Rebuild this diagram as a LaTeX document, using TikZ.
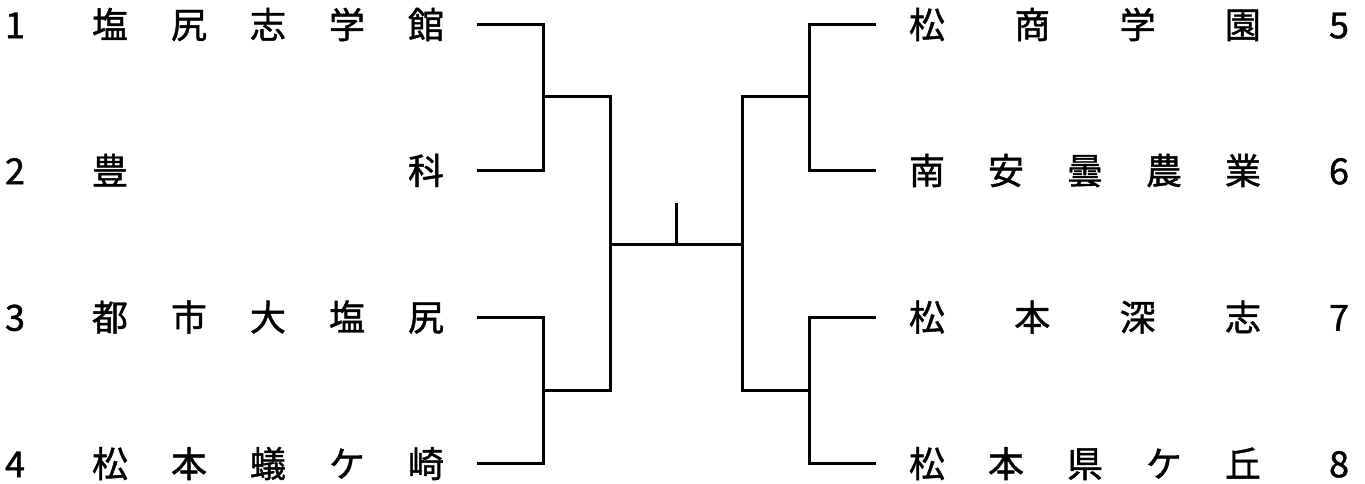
\documentclass[tikz,border=0pt]{standalone}
\usepackage{fontspec}
\newfontfamily\jp[FakeBold=1.2]{Noto Sans CJK JP}
\tikzset{
  bk/.style={line width=3pt},
  team/.style={font=\jp\fontsize{36}{36}\selectfont, inner xsep=33pt, inner ysep=0pt, text height=31.7pt, text depth=4.3pt},
  num/.style={font=\jp\fontsize{36}{36}\selectfont, inner sep=0pt, text height=31.7pt, text depth=4.3pt}
}
\newcommand{\spreadname}[1]{\hbox to 352pt{#1}}
\begin{document}
\begin{tikzpicture}[x=1pt,y=-1pt]
\useasboundingbox (0,0) rectangle (1365,484);
% left teams
\node[team] (l1) at (268,24.5) {\spreadname{塩\hfil 尻\hfil 志\hfil 学\hfil 館}};
\node[team] (l2) at (268,170.5) {\spreadname{豊\hfil 科}};
\node[team] (l3) at (268,317) {\spreadname{都\hfil 市\hfil 大\hfil 塩\hfil 尻}};
\node[team] (l4) at (268,463.5) {\spreadname{松\hfil 本\hfil 蟻\hfil ケ\hfil 崎}};
% right teams
\node[team] (r1) at (1085,24.5) {\spreadname{松\hfil 商\hfil 学\hfil 園}};
\node[team] (r2) at (1085,170.5) {\spreadname{南\hfil 安\hfil 曇\hfil 農\hfil 業}};
\node[team] (r3) at (1085,317) {\spreadname{松\hfil 本\hfil 深\hfil 志}};
\node[team] (r4) at (1085,463.5) {\spreadname{松\hfil 本\hfil 県\hfil ケ\hfil 丘}};
% numbers
\node[num] (n1) at (15,24.5) {1};
\node[num] (n2) at (15,170.5) {2};
\node[num] (n3) at (15,317) {3};
\node[num] (n4) at (15,463.5) {4};
\node[num] (n5) at (1339,24.5) {5};
\node[num] (n6) at (1339,170.5) {6};
\node[num] (n7) at (1339,317) {7};
\node[num] (n8) at (1339,463.5) {8};
% junctions
\coordinate (ja) at (543,97);
\coordinate (jb) at (543,390);
\coordinate (jc) at (809,97);
\coordinate (jd) at (809,390);
\coordinate (sl) at (610.5,244);
\coordinate (sr) at (742,244);
\coordinate (top) at (676,203);
\coordinate (mid) at (676,244);
% brackets
\draw[bk] (l1.east) -| (ja) |- (l2.east);
\draw[bk] (l3.east) -| (jb) |- (l4.east);
\draw[bk] (r1.west) -| (jc) |- (r2.west);
\draw[bk] (r3.west) -| (jd) |- (r4.west);
\draw[bk] (ja) -| (sl) |- (jb);
\draw[bk] (jc) -| (sr) |- (jd);
\draw[bk] (sl) -- (sr);
\draw[bk] (top) -- (mid);
\end{tikzpicture}
\end{document}
